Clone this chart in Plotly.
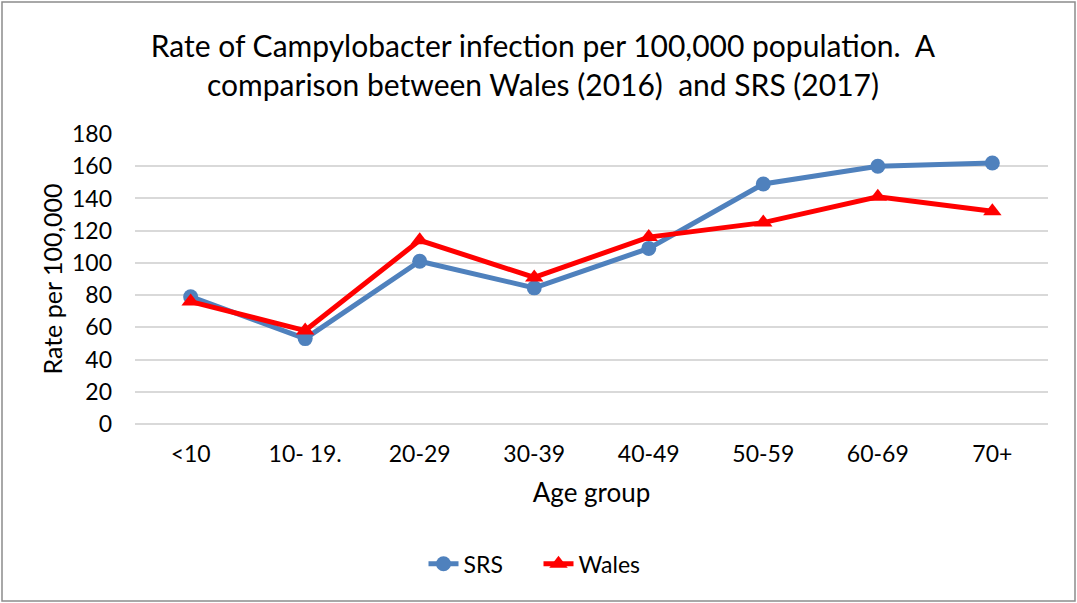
import plotly.graph_objects as go

age_groups = ["&lt;10", "10- 19.", "20-29", "30-39", "40-49", "50-59", "60-69", "70+"]
srs_rate = [79, 53, 101, 84.5, 109, 149, 160, 162]
wales_rate = [76, 58, 114, 91, 116, 125, 141, 132]

font_family = "Lato, sans-serif"

fig = go.Figure()

fig.add_trace(go.Scatter(
    x=age_groups, y=srs_rate, name="SRS", mode="lines+markers",
    line=dict(color="#4f81bd", width=5),
    marker=dict(symbol="circle", size=15, color="#4f81bd"),
))

fig.add_trace(go.Scatter(
    x=age_groups, y=wales_rate, name="Wales", mode="lines+markers",
    line=dict(color="#ff0000", width=5),
    marker=dict(symbol="triangle-up", size=16, color="#ff0000"),
))

fig.update_layout(
    width=1077, height=603,
    paper_bgcolor="white", plot_bgcolor="white",
    font=dict(family=font_family, size=23, color="#000000"),
    margin=dict(l=135, r=29, t=134, b=179),
    title=dict(
        text="Rate of Campylobacter infection per 100,000 population.  A<br>comparison between Wales (2016)  and SRS (2017)",
        x=543 / 1077, xref="container", xanchor="center",
        y=0.906, yref="container", yanchor="middle",
        font=dict(size=30, family=font_family),
    ),
    legend=dict(
        orientation="h", x=0.5, xanchor="center", xref="container",
        y=0.065, yanchor="middle", yref="container",
        font=dict(size=23), entrywidth=70,
    ),
    shapes=[dict(
        type="rect", xref="paper", yref="paper",
        x0=-133 / 913, x1=1 + 27 / 913, y0=-177 / 290, y1=1 + 132 / 290,
        line=dict(color="#8c8c8c", width=1.5),
    )],
)

fig.update_xaxes(
    title=dict(text="Age group", font=dict(size=26), standoff=17),
    showgrid=False, showline=False, ticks="", ticklabelstandoff=14,
)

fig.update_yaxes(
    title=dict(text="Rate per 100,000", font=dict(size=25), standoff=2),
    range=[0, 180], dtick=20,
    showgrid=True, gridcolor="#d9d9d9", gridwidth=1.5,
    zeroline=True, zerolinecolor="#d9d9d9", zerolinewidth=1.5,
    showline=False, ticks="", ticklabelstandoff=22,
)

# drop the page's default body margin so the figure sits at the window corner
fig.write_html("out.html", config={"displayModeBar": False},
               post_script="document.body.style.margin='0';")
